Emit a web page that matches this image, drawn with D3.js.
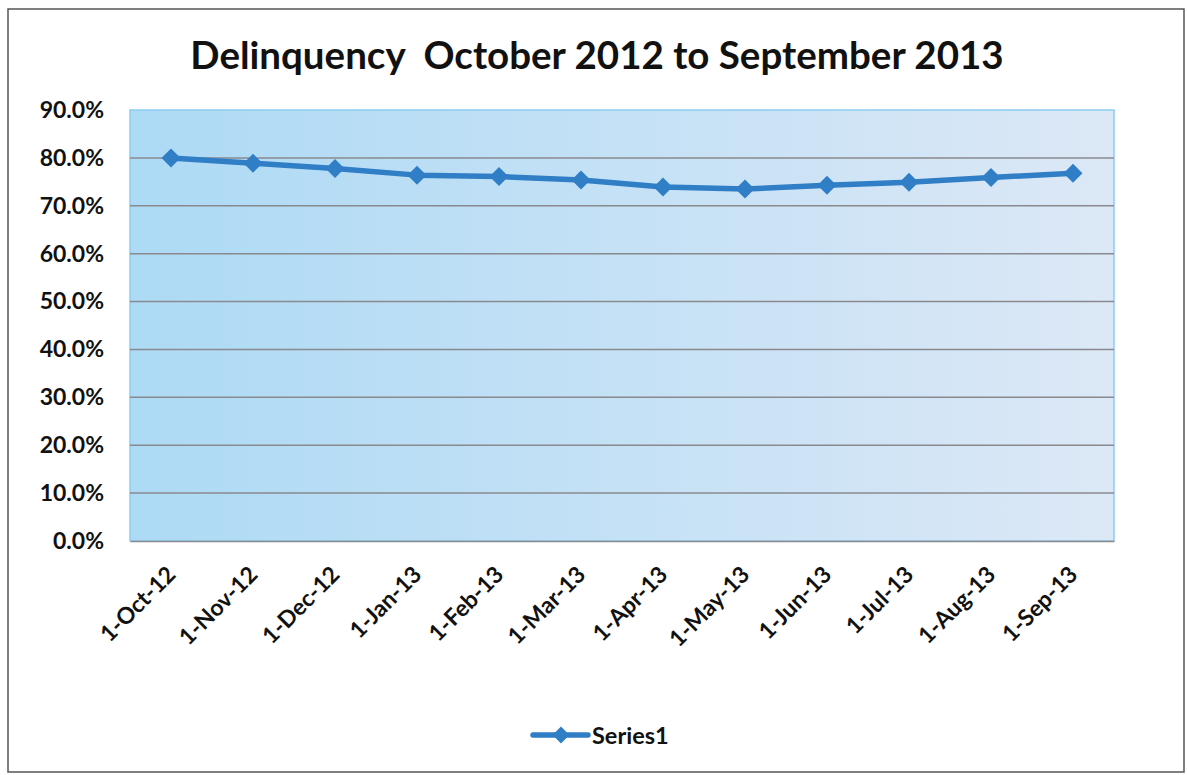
<!DOCTYPE html>
<html><head><meta charset="utf-8">
<script src="https://cdn.jsdelivr.net/npm/d3@7"></script>
<style>body{margin:0;background:#fff}svg{display:block}text{font-family:Lato,"Open Sans",sans-serif;font-weight:bold;fill:#111}</style>
</head><body>
<script>
const categories = ["1-Oct-12","1-Nov-12","1-Dec-12","1-Jan-13","1-Feb-13","1-Mar-13","1-Apr-13","1-May-13","1-Jun-13","1-Jul-13","1-Aug-13","1-Sep-13"];
const series1 = [0.800,0.789,0.778,0.764,0.761,0.754,0.739,0.735,0.743,0.749,0.759,0.768];
const yTicks = [0,0.1,0.2,0.3,0.4,0.5,0.6,0.7,0.8,0.9];
const title = "Delinquency  October 2012 to September 2013";
const seriesName = "Series1";

const W=1187,H=775;
const svg=d3.select("body").append("svg").attr("width",W).attr("height",H);
svg.append("rect").attr("x",8).attr("y",9).attr("width",1176).attr("height",763)
  .attr("fill","#fff").attr("stroke","#555").attr("stroke-width",1.5);

const L=130,R=1114,T=110,B=541;
const x=d3.scaleBand().domain(categories).range([L,R]);
const y=d3.scaleLinear().domain([0,0.9]).range([B,T]);

const defs=svg.append("defs");
const g=defs.append("linearGradient").attr("id","bg").attr("x1","0").attr("x2","1").attr("y1","0").attr("y2","0");
g.append("stop").attr("offset","0").attr("stop-color","#addaf5");
g.append("stop").attr("offset","1").attr("stop-color","#dce8f6");
svg.append("rect").attr("x",L).attr("y",T).attr("width",R-L).attr("height",B-T)
  .attr("fill","url(#bg)").attr("stroke","#8ccdf0").attr("stroke-width",1.5);

svg.append("g").selectAll("line").data(yTicks.filter(d=>d>0 && d<0.9)).join("line")
  .attr("x1",L).attr("x2",R).attr("y1",d=>y(d)).attr("y2",d=>y(d))
  .attr("stroke","#8a8a8e").attr("stroke-width",1.5);

const ya=svg.append("g").attr("transform",`translate(${L},0)`)
  .call(d3.axisLeft(y).tickValues(yTicks).tickFormat(d3.format(".1%")).tickSize(0).tickPadding(26));
ya.select(".domain").remove();
ya.selectAll("text").style("font-size","23px").style("font-family","Lato,sans-serif").style("font-weight","bold").attr("fill","#111");

const xa=svg.append("g").attr("transform",`translate(0,${B})`)
  .call(d3.axisBottom(x).tickSize(0).tickPadding(0));
xa.select(".domain").attr("stroke","#8a8a8e").attr("stroke-width",1.5);
xa.selectAll("text").style("font-size","23px").style("font-family","Lato,sans-serif").style("font-weight","bold").attr("fill","#111")
  .attr("text-anchor","end").attr("dy","0").attr("y",0)
  .attr("transform","translate(6,35) rotate(-45)");

const line=d3.line().x((d,i)=>x(categories[i])+x.bandwidth()/2).y(d=>y(d));
svg.append("path").datum(series1).attr("d",line).attr("fill","none")
  .attr("stroke","#2f7ec6").attr("stroke-width",5.5).attr("stroke-linejoin","round");
const sym=d3.symbol().type(d3.symbolDiamond2).size(230);
svg.append("g").selectAll("path").data(series1).join("path")
  .attr("d",sym).attr("fill","#2f7ec6")
  .attr("transform",(d,i)=>`translate(${x(categories[i])+x.bandwidth()/2},${y(d)})`);

svg.append("text").attr("x",597).attr("y",69).attr("text-anchor","middle")
  .attr("xml:space","preserve").style("white-space","pre")
  .style("font-size","38.5px").text(title);

const lg=svg.append("g");
lg.append("line").attr("x1",533).attr("x2",588).attr("y1",735).attr("y2",735)
  .attr("stroke","#2f7ec6").attr("stroke-width",5.5).attr("stroke-linecap","round");
lg.append("path").attr("d",d3.symbol().type(d3.symbolDiamond2).size(180)).attr("fill","#2f7ec6").attr("transform","translate(561,735)");
lg.append("text").attr("x",592).attr("y",744).style("font-size","23.5px").text(seriesName);
</script>
</body></html>
